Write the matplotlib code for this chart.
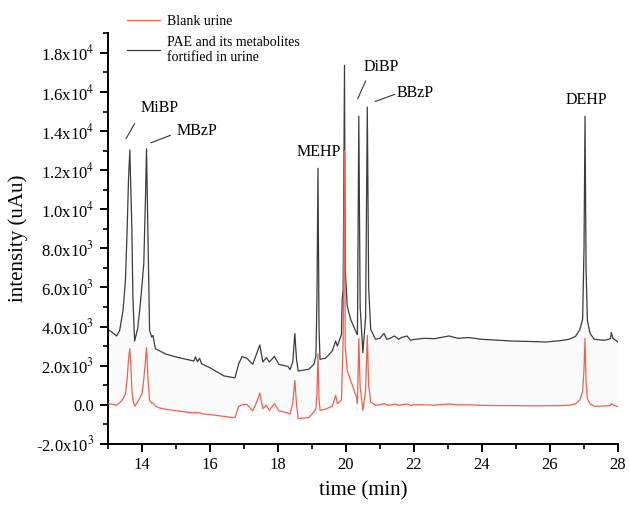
import numpy as np
import matplotlib
matplotlib.use('Agg')
import matplotlib.pyplot as plt
from matplotlib.ticker import MultipleLocator, FuncFormatter

plt.rcParams['font.family'] = ['Liberation Serif', 'DejaVu Serif']
plt.rcParams['mathtext.fontset'] = 'stix'

# retention time (min), shared by both traces
time_min = [13.00, 13.10, 13.26, 13.35, 13.45, 13.52, 13.57, 13.61, 13.65, 13.68,
            13.71, 13.74, 13.79, 13.88, 13.96, 14.01, 14.06, 14.11, 14.14, 14.18,
            14.23, 14.29, 14.33, 14.40, 14.50, 14.70, 15.00, 15.30, 15.53, 15.58,
            15.64, 15.70, 15.76, 16.00, 16.41, 16.66, 16.74, 16.85, 16.95, 17.09,
            17.26, 17.36, 17.47, 17.56, 17.66, 17.75, 17.90, 18.03, 18.30, 18.36,
            18.44, 18.50, 18.55, 18.60, 18.91, 19.06, 19.12, 19.15, 19.18, 19.21,
            19.24, 19.40, 19.60, 19.70, 19.75, 19.87, 19.89, 19.92, 19.96, 19.98,
            20.04, 20.14, 20.31, 20.34, 20.38, 20.42, 20.50, 20.58, 20.63, 20.67,
            20.73, 20.87, 21.00, 21.12, 21.20, 21.30, 21.43, 21.55, 21.65, 21.80,
            21.90, 22.00, 22.30, 22.60, 23.03, 23.30, 23.60, 24.00, 24.50, 24.90,
            25.40, 25.87, 26.30, 26.56, 26.75, 26.88, 26.96, 27.00, 27.03, 27.06,
            27.10, 27.18, 27.30, 27.60, 27.78, 27.80, 27.85, 28.00]

# PAE and its metabolites fortified in urine
spiked = [3850, 3750, 3520, 3800, 4830, 6370, 8930, 11500, 13030, 11000,
          8930, 5520, 3260, 3900, 5180, 6200, 7220, 10630, 13100, 8930,
          3810, 3470, 3550, 2870, 2780, 2600, 2450, 2330, 2240, 2450,
          2200, 2380, 2100, 1900, 1480, 1400, 1380, 2100, 2470, 2380,
          2070, 2530, 3060, 2190, 2410, 2190, 2470, 2070, 1960, 1800,
          2200, 3650, 2300, 1730, 1820, 2070, 2500, 5500, 12100, 4000,
          2330, 2380, 2750, 3260, 3000, 3600, 5350, 5900, 17360, 7000,
          5050, 4370, 3690, 3600, 14760, 5000, 2670, 4500, 15230, 6000,
          3860, 3350, 3400, 3650, 3350, 3400, 3520, 3350, 3450, 3520,
          3300, 3340, 3400, 3380, 3520, 3400, 3440, 3350, 3300, 3260,
          3240, 3210, 3280, 3350, 3500, 3850, 4400, 8000, 14760, 7000,
          4300, 3650, 3350, 3300, 3380, 3700, 3400, 3210]

# blank urine
blank = [60, 40, -25, 100, 300, 570, 1300, 2300, 2870, 2000,
         740, 250, -75, 150, 400, 590, 1300, 2300, 2920, 1420,
         230, 80, 100, -60, -150, -230, -300, -370, -420, -380,
         -430, -400, -460, -500, -590, -650, -655, -80, 0, 25,
         -315, 60, 600, -195, -25, -280, 60, -315, -420, -480,
         100, 1250, 0, -700, -655, -365, -200, 600, 2600, 300,
         -280, -225, -75, 485, 60, 230, 1500, 3300, 13000, 3000,
         1760, 1250, 400, 60, 3390, 900, -280, 700, 3550, 1000,
         145, -25, 0, 60, 0, -20, 40, -20, 0, 40,
         -30, 0, 0, -20, 40, -10, 0, -30, -40, -40,
         -50, -50, -40, -25, 50, 250, 700, 1800, 3390, 1200,
         300, 50, -75, -60, -40, 60, 0, -100]

peak_names = ['MiBP', 'MBzP', 'MEHP', 'DiBP', 'BBzP', 'DEHP']
peak_label_pos = [(14.54, 15170), (15.63, 14000), (19.21, 12920),
                  (21.03, 17280), (22.05, 15950), (27.06, 15570)]
leaders = {'MiBP': ((13.54, 13620), (13.79, 14380)),
           'MBzP': ((14.27, 13400), (14.84, 13780)),
           'DiBP': ((20.35, 15660), (20.58, 16560)),
           'BBzP': ((20.87, 15520), (21.44, 15880))}

red = '#f0604f'
dark = '#3c3c3c'

fig = plt.figure(figsize=(6.3, 5.05), dpi=100)
ax = fig.add_axes([0.171, 0.121, 0.81, 0.813])

ax.fill_between(time_min, blank, spiked, color='#fafafa', lw=0)
l2, = ax.plot(time_min, spiked, color=dark, lw=0.9, zorder=2)
l1, = ax.plot(time_min, blank, color=red, lw=0.9, zorder=3)

for name, (x, y) in zip(peak_names, peak_label_pos):
    ax.text(x, y, name, ha='center', va='center', fontsize=11.5)
for name, (p0, p1) in leaders.items():
    ax.plot([p0[0], p1[0]], [p0[1], p1[1]], color='#333333', lw=0.8)

ax.set_xlim(13, 28)
ax.set_ylim(-2000, 19000)
ax.xaxis.set_minor_locator(MultipleLocator(1))
ax.set_xticks([14, 16, 18, 20, 22, 24, 26, 28])
ax.yaxis.set_major_locator(MultipleLocator(2000))
ax.yaxis.set_minor_locator(MultipleLocator(1000))


def sci(v, pos):
    if abs(v) < 1e-9:
        return '0.0'
    e = int(np.floor(np.log10(abs(v))))
    m = v / 10 ** e
    return f'{m:.1f}x10$^{{{e}}}$'


ax.yaxis.set_major_formatter(FuncFormatter(sci))

for s in ['top', 'right']:
    ax.spines[s].set_visible(False)
for s in ['left', 'bottom']:
    ax.spines[s].set_linewidth(1.4)
ax.tick_params(which='major', direction='out', length=6, width=1.4, labelsize=12)
ax.tick_params(which='minor', direction='out', length=3.5, width=1.2)

ax.set_xlabel('time (min)', fontsize=15, labelpad=6)
ax.set_ylabel('intensity (uAu)', fontsize=15, labelpad=6)

fig.legend([l1, l2], ['Blank urine', 'PAE and its metabolites\nfortified in urine'],
           loc='upper left', bbox_to_anchor=(127 / 630, 1 - 15 / 505),
           frameon=False, fontsize=10, handlelength=2.4, handletextpad=0.5,
           labelspacing=0.6, borderpad=0, borderaxespad=0)

fig.savefig('out.png', dpi=100)
